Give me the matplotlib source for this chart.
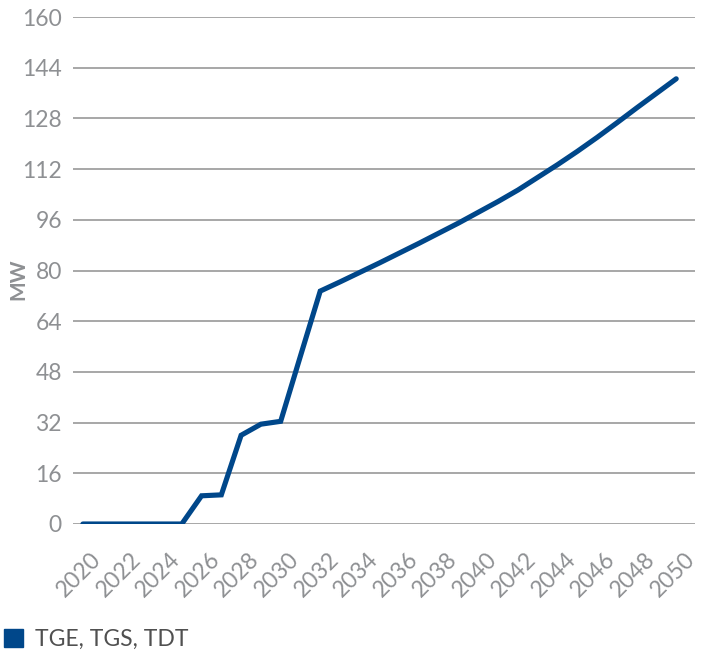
import matplotlib.pyplot as plt
import matplotlib.transforms as mtransforms
from matplotlib.patches import Patch

plt.rcParams["font.family"] = ["Lato", "DejaVu Sans"]

# data
years = list(range(2020, 2051))
mw = [0, 0, 0, 0, 0, 0, 8.9, 9.2, 28.0, 31.5, 32.4, 53.0, 73.5,
      76.4, 79.4, 82.4, 85.5, 88.6, 91.8, 95.0, 98.4, 101.8, 105.4,
      109.4, 113.4, 117.6, 122.0, 126.6, 131.3, 135.9, 140.5]
series_name = "TGE, TGS, TDT"
xticks = list(range(2020, 2051, 2))
yticks = list(range(0, 161, 16))

blue = "#00478a"
grey = "#8e9093"
grid = "#a0a0a0"

fig = plt.figure(figsize=(7.10, 6.53), dpi=100)
ax = fig.add_axes([73 / 710, 1 - 524 / 653, 622 / 710, 507 / 653])

ax.plot(years, mw, color=blue, lw=3.7, solid_capstyle="round",
        solid_joinstyle="miter", zorder=3)

ax.set_ylim(0, 160)
ax.set_xlim(2019.5, 2050.95)
ax.set_yticks(yticks)
ax.set_xticks(xticks)
ax.set_xticklabels([str(x) for x in xticks], rotation=45, ha="right",
                   va="center", rotation_mode="anchor")
ax.yaxis.grid(True, color=grid, lw=1.3)
ax.set_axisbelow(True)
for s in ax.spines.values():
    s.set_visible(False)
ax.tick_params(axis="both", length=0, colors=grey, labelsize=16.5)
ax.tick_params(axis="y", pad=8)
ax.tick_params(axis="x", pad=23)

offset = mtransforms.ScaledTranslation(0.15, 0, fig.dpi_scale_trans)
for lab in ax.get_xticklabels():
    lab.set_transform(lab.get_transform() + offset)

ax.set_ylabel("MW", color=grey, fontsize=15, fontweight="bold")
ax.yaxis.set_label_coords(-0.072, 0.483)

fig.legend(handles=[Patch(color=blue)], labels=[series_name],
           loc="lower left", bbox_to_anchor=(4 / 710, 3 / 653),
           frameon=False, fontsize=16.5, handlelength=0.85, handleheight=0.85,
           handletextpad=0.5, borderpad=0, borderaxespad=0,
           labelcolor="#505050")

fig.savefig("out.png", dpi=100)
